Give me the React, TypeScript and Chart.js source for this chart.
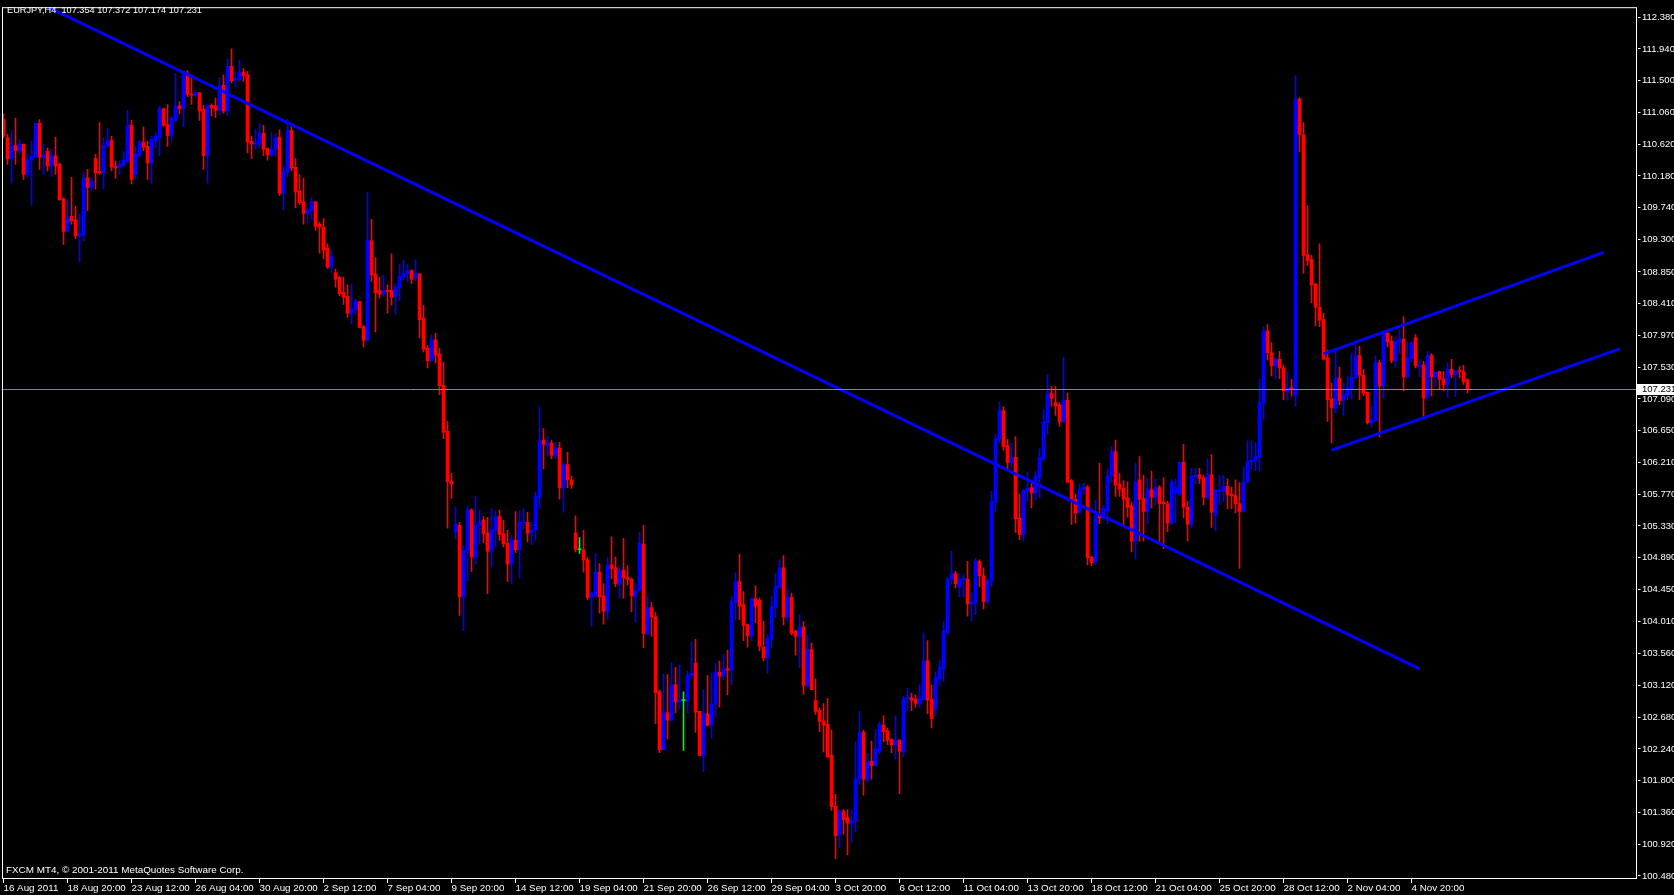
import React, { useEffect, useRef } from 'react';
import { Chart, registerables } from 'chart.js';

Chart.register(...registerables);

// ---- Header / footer texts ----
const symbolTitle = 'EURJPY,H4';
const lastBarQuote = ['107.354', '107.372', '107.174', '107.231'];
const copyrightText = 'FXCM MT4, © 2001-2011 MetaQuotes Software Corp.';

// ---- H4 candles (bar 0 = 16 Aug 2011) ----
const opens = [
  110.96,110.71,110.42,110.60,110.53,110.62,110.20,110.40,110.44,110.91,
  110.44,110.52,110.32,110.46,110.34,109.86,109.41,109.62,109.57,109.35,
  109.36,110.15,110.02,110.42,110.24,110.22,110.60,110.67,110.31,110.30,
  110.33,110.39,110.88,110.20,110.46,110.65,110.59,110.36,110.67,110.71,
  111.11,110.89,110.74,110.95,111.15,111.12,111.59,111.31,111.30,111.33,
  111.10,110.46,111.16,111.15,111.09,111.44,111.08,111.70,111.51,111.51,
  111.62,111.58,110.66,110.62,110.62,110.77,110.56,110.47,110.55,110.72,
  109.94,110.24,110.81,110.30,109.97,109.82,109.66,109.70,109.82,109.51,
  109.47,109.18,108.93,108.84,108.77,108.57,108.51,108.28,108.33,108.44,
  108.09,107.90,109.28,108.82,108.59,108.55,108.59,108.59,108.51,108.63,
  108.78,108.83,108.87,108.77,108.82,108.21,107.79,107.62,107.91,107.71,
  107.28,106.64,105.95,105.25,105.34,104.35,104.98,105.55,104.89,105.34,
  105.41,105.23,104.98,105.27,105.46,105.22,105.09,104.81,105.13,105.00,
  105.37,105.38,105.24,105.27,105.73,106.52,106.45,106.48,106.31,106.41,
  105.86,106.18,105.97,105.23,105.00,105.00,104.86,104.34,104.36,104.69,
  104.36,104.15,104.79,104.75,104.52,104.72,104.62,104.59,104.35,104.44,
  105.08,103.83,104.20,104.07,103.03,102.23,102.74,102.64,103.13,102.89,
  102.91,102.91,103.26,103.43,102.76,102.15,102.73,102.57,102.86,103.30,
  103.25,103.35,103.33,104.27,104.56,104.24,103.96,103.81,104.32,104.30,
  103.65,103.50,103.76,104.20,104.48,104.75,104.07,104.34,103.87,103.80,
  103.93,103.12,103.62,102.91,102.77,102.63,102.58,102.15,101.45,101.05,
  101.38,101.29,101.21,101.24,101.82,102.47,101.81,102.07,102.01,102.21,
  102.57,102.49,102.37,102.30,102.36,102.20,102.94,102.95,102.93,102.87,
  102.92,103.46,102.93,102.80,103.21,103.35,103.85,104.59,104.67,104.48,
  104.58,104.59,104.25,104.26,104.84,104.64,104.28,104.57,105.66,106.53,
  106.93,106.44,106.21,106.28,105.44,105.21,105.82,105.86,105.79,106.00,
  106.26,106.76,107.17,107.04,107.01,106.77,107.07,105.96,105.70,105.52,
  105.84,105.87,104.90,104.83,105.49,105.44,105.54,106.02,106.36,105.91,
  105.85,105.72,105.61,105.12,105.97,105.71,105.53,105.83,105.73,105.86,
  105.66,105.64,105.37,105.78,105.77,106.21,105.59,105.35,106.01,106.04,
  106.00,105.73,106.04,105.48,105.81,105.81,105.88,105.77,105.75,105.64,
  105.53,105.94,106.22,106.23,106.28,107.03,108.03,107.73,107.55,107.64,
  107.52,107.19,107.24,107.13,111.24,110.75,109.09,109.02,108.68,108.36,
  108.19,107.66,107.09,106.96,107.38,107.07,107.14,107.23,107.38,107.69,
  107.42,107.18,106.76,106.79,107.59,107.27,108.00,107.89,107.62,107.88,
  107.92,107.40,107.65,107.94,107.54,107.56,107.11,107.69,107.40,107.47,
  107.37,107.29,107.50,107.43,107.49,107.47,107.354,
];
const highs = [
  111.04,110.76,110.81,110.98,110.69,110.62,110.48,110.66,110.91,110.96,
  110.62,110.57,110.55,110.72,110.36,109.88,109.85,110.16,109.76,109.65,
  110.23,110.27,110.16,110.48,110.92,110.71,110.84,110.73,110.39,110.39,
  110.52,111.09,110.95,110.59,110.67,110.86,110.66,110.73,110.78,111.15,
  111.12,111.17,111.01,111.60,111.21,111.63,111.64,111.58,111.37,111.34,
  111.16,111.17,111.18,111.26,111.54,111.58,111.80,111.94,111.62,111.79,
  111.67,111.63,110.73,110.83,110.91,110.88,110.57,110.78,110.76,110.82,
  110.32,110.96,110.86,110.42,110.20,110.15,109.74,109.88,109.83,109.54,
  109.59,109.24,109.15,108.89,108.79,108.78,108.67,108.68,108.47,108.44,
  108.11,109.95,109.58,109.05,108.78,108.81,108.67,109.10,108.69,108.95,
  109.01,108.95,108.88,109.02,108.83,108.39,107.83,107.98,108.00,107.79,
  107.60,106.78,106.06,105.59,105.38,105.06,105.61,105.57,105.74,105.55,
  105.46,105.45,105.57,105.54,105.55,105.41,105.27,105.20,105.53,105.54,
  105.57,105.52,105.38,105.80,106.98,106.68,106.57,106.52,106.49,106.49,
  106.22,106.35,106.02,105.47,105.17,105.27,104.90,104.41,104.95,104.81,
  104.53,104.89,105.18,104.90,104.78,105.16,104.78,104.61,104.53,105.24,
  105.34,104.36,104.27,104.13,103.06,103.28,103.27,103.44,103.37,103.41,
  103.03,103.32,103.72,103.76,102.76,103.06,103.26,103.29,103.42,103.46,
  103.55,103.61,104.35,104.68,104.94,104.42,103.97,104.33,104.50,104.33,
  104.01,103.82,104.35,104.67,104.86,104.92,104.46,104.40,103.89,104.10,
  104.00,103.82,103.71,103.21,102.81,102.87,102.94,102.50,101.61,101.40,
  101.40,101.40,101.40,102.34,102.76,102.50,102.18,102.35,102.51,102.62,
  102.70,102.53,102.38,102.70,102.37,102.97,103.08,103.01,102.99,103.13,
  103.85,103.74,103.13,103.31,103.47,104.00,104.62,104.98,104.70,104.67,
  104.65,104.84,104.41,104.88,104.86,104.75,104.60,105.81,106.60,107.05,
  106.98,106.53,106.48,106.57,105.77,105.84,106.08,105.93,106.08,106.40,
  106.94,107.43,107.26,107.26,107.04,107.67,107.17,105.98,105.77,105.91,
  105.92,105.89,104.91,105.68,106.20,105.62,106.12,106.43,106.52,106.06,
  105.96,105.94,105.66,106.20,106.29,106.03,105.99,106.09,105.98,105.89,
  106.00,105.67,105.97,105.98,106.22,106.46,105.67,106.13,106.13,106.13,
  106.03,106.26,106.32,105.84,106.03,106.03,105.98,105.87,105.97,105.93,
  106.15,106.51,106.51,106.48,107.36,108.09,108.12,107.87,107.66,107.75,
  107.56,107.47,107.36,111.57,111.27,110.92,109.77,109.08,108.69,109.24,
  108.28,107.77,107.31,107.75,107.53,107.31,107.40,107.73,107.84,107.82,
  107.50,107.19,106.99,107.69,107.63,108.01,108.05,107.96,107.95,108.05,
  108.23,107.88,107.88,107.98,107.64,107.61,107.75,107.72,107.46,107.47,
  107.47,107.59,107.64,107.49,107.54,107.56,107.372,
];
const lows = [
  110.71,110.34,110.08,110.34,110.48,110.13,110.16,109.78,110.43,110.27,
  110.20,110.25,110.17,110.20,109.84,109.23,109.41,109.51,109.31,108.99,
  109.28,109.70,109.97,110.00,110.20,110.00,110.57,110.25,110.15,110.20,
  110.31,110.36,110.07,110.13,110.44,110.53,110.13,110.08,110.57,110.46,
  110.87,110.59,110.66,110.94,111.04,110.86,111.28,111.17,111.27,110.95,
  110.27,110.08,111.01,110.99,111.03,111.05,111.02,111.47,111.42,111.49,
  111.49,110.50,110.42,110.55,110.57,110.46,110.40,110.45,110.45,109.91,
  109.71,110.17,110.25,109.74,109.78,109.51,109.53,109.58,109.43,109.11,
  109.03,108.90,108.84,108.64,108.52,108.40,108.22,108.13,108.26,108.08,
  107.81,107.90,108.72,108.02,108.49,108.51,108.28,108.39,108.26,108.45,
  108.74,108.72,108.69,108.73,107.94,107.74,107.52,107.61,107.59,107.15,
  106.54,105.30,105.71,105.15,104.09,103.88,104.57,104.70,104.80,105.08,
  105.10,104.39,104.76,105.04,105.13,105.04,104.56,104.53,104.96,104.61,
  105.29,105.11,105.07,105.13,105.57,106.12,106.30,106.26,106.26,105.70,
  105.52,105.86,105.85,104.97,104.95,104.69,104.31,103.94,104.35,104.12,
  103.97,104.04,104.60,104.49,104.33,104.33,104.51,104.14,104.00,104.42,
  103.64,103.82,103.80,102.59,102.19,102.23,102.38,102.62,102.74,102.79,
  102.22,102.74,103.22,102.47,102.15,101.93,102.56,102.39,102.68,102.82,
  103.20,102.99,103.13,104.03,104.03,103.74,103.65,103.74,103.99,103.60,
  103.46,103.29,103.64,104.06,104.46,103.96,104.01,103.82,103.54,103.37,
  103.00,103.10,103.06,102.72,102.48,102.20,102.12,101.39,100.72,100.87,
  101.06,100.77,100.95,101.09,101.75,101.60,101.78,101.82,102.00,102.17,
  102.34,102.30,102.19,102.10,101.62,102.13,102.77,102.77,102.82,102.81,
  102.91,102.73,102.53,102.70,103.12,103.18,103.82,104.52,104.47,104.35,
  104.35,104.08,104.01,104.10,104.49,104.18,104.25,104.49,105.53,106.48,
  106.38,106.12,106.14,105.24,105.14,105.12,105.68,105.58,105.69,105.72,
  106.23,106.61,106.99,106.86,106.71,106.76,105.93,105.35,105.37,105.50,
  105.76,104.79,104.78,104.79,105.36,105.41,105.36,105.94,105.74,105.74,
  105.33,105.45,104.97,104.87,105.12,105.12,105.36,105.58,105.62,105.11,
  105.01,105.25,105.35,105.38,105.75,105.44,105.12,105.30,105.91,105.92,
  105.62,105.70,105.31,105.26,105.63,105.67,105.57,105.57,105.51,104.74,
  105.52,105.93,106.12,106.10,106.09,106.81,107.63,107.41,107.36,107.37,
  107.08,107.07,107.13,106.99,110.52,108.83,108.94,108.42,108.10,108.09,
  107.63,106.78,106.48,106.90,107.01,106.86,107.08,107.09,107.37,107.08,
  107.14,106.74,106.70,106.77,106.56,107.09,107.81,107.59,107.52,107.72,
  107.20,107.38,107.61,107.52,107.40,106.84,107.07,107.13,107.27,107.22,
  107.20,107.11,107.38,107.12,107.38,107.29,107.174,
];
const closes = [
  110.73,110.42,110.60,110.53,110.62,110.20,110.40,110.46,110.91,110.44,
  110.47,110.32,110.46,110.32,109.85,109.41,109.60,109.56,109.35,109.38,
  110.15,110.02,110.11,110.22,110.22,110.60,110.67,110.30,110.29,110.34,
  110.40,110.88,110.13,110.48,110.65,110.58,110.36,110.69,110.73,111.11,
  110.88,110.74,110.98,111.15,111.11,111.59,111.31,111.30,111.34,111.08,
  110.46,111.15,111.12,111.09,111.43,111.08,111.70,111.50,111.52,111.62,
  111.57,110.65,110.62,110.65,110.77,110.55,110.47,110.55,110.70,109.94,
  110.24,110.81,110.29,109.96,109.81,109.66,109.70,109.82,109.48,109.47,
  109.15,108.92,109.06,108.75,108.55,108.50,108.28,108.33,108.45,108.08,
  107.90,109.29,108.81,108.56,108.54,108.59,108.58,108.50,108.64,108.79,
  108.83,108.87,108.75,108.83,108.19,107.78,107.62,107.91,107.70,107.27,
  106.63,105.94,105.91,105.35,104.35,104.99,105.55,104.90,105.34,105.39,
  105.22,104.98,105.28,105.46,105.21,105.08,104.80,105.14,105.00,105.38,
  105.38,105.23,105.27,105.74,106.51,106.46,106.48,106.31,106.41,105.86,
  106.18,105.97,105.90,105.00,105.00,104.86,104.34,104.40,104.69,104.35,
  104.15,104.79,104.74,104.53,104.72,104.61,104.59,104.36,104.43,105.09,
  103.84,104.20,104.07,103.02,102.23,102.74,102.64,103.13,102.89,102.92,
  102.91,103.26,103.29,102.75,102.15,102.73,102.57,102.86,103.30,103.25,
  103.35,103.33,104.28,104.56,104.22,103.95,103.81,104.32,104.22,103.66,
  103.50,103.77,104.21,104.49,104.75,104.07,104.34,103.84,103.80,103.93,
  103.12,103.62,103.06,102.76,102.62,102.57,102.13,101.44,101.04,101.38,
  101.26,101.21,101.24,101.83,102.47,101.82,102.07,102.01,102.24,102.58,
  102.48,102.36,102.30,102.36,102.21,102.94,102.96,102.92,102.87,102.94,
  103.46,102.92,102.66,103.23,103.37,103.87,104.59,104.67,104.53,104.59,
  104.60,104.25,104.28,104.84,104.64,104.28,104.57,105.67,106.54,106.93,
  106.43,106.21,106.28,105.43,105.21,105.82,105.85,105.79,106.02,106.28,
  106.77,107.17,107.10,106.99,106.77,107.07,105.94,105.68,105.51,105.84,
  105.87,104.89,104.82,105.48,105.44,105.57,106.02,106.36,105.90,105.84,
  105.70,105.59,105.12,105.94,105.70,105.53,105.84,105.73,105.86,105.64,
  105.64,105.37,105.94,105.86,106.21,105.59,105.35,106.02,106.03,105.99,
  105.73,106.04,105.52,105.83,105.82,105.88,105.76,105.75,105.64,105.53,
  105.94,106.23,106.24,106.29,107.04,108.03,107.73,107.55,107.64,107.52,
  107.20,107.24,107.23,111.24,110.75,109.08,109.01,108.67,108.36,108.18,
  107.64,107.08,106.97,107.38,107.07,107.15,107.24,107.39,107.69,107.42,
  107.17,106.76,106.80,107.59,107.27,108.00,107.88,107.62,107.89,107.92,
  107.40,107.66,107.87,107.55,107.56,107.10,107.69,107.40,107.46,107.36,
  107.29,107.50,107.43,107.48,107.47,107.33,107.231,
];

// ---- Time axis labels (one every 16 bars) ----
const timeLabels = [
  '16 Aug 2011', '18 Aug 20:00', '23 Aug 12:00', '26 Aug 04:00', '30 Aug 20:00',
  '2 Sep 12:00', '7 Sep 04:00', '9 Sep 20:00', '14 Sep 12:00', '19 Sep 04:00',
  '21 Sep 20:00', '26 Sep 12:00', '29 Sep 04:00', '3 Oct 20:00', '6 Oct 12:00',
  '11 Oct 04:00', '13 Oct 20:00', '18 Oct 12:00', '21 Oct 04:00', '25 Oct 20:00',
  '28 Oct 12:00', '2 Nov 04:00', '4 Nov 20:00',
];
const barsPerTimeLabel = 16;
const slotCount = 409; // bars + empty right-hand shift area

// ---- Price axis ----
const priceTicks = [
  112.38, 111.94, 111.5, 111.06, 110.62, 110.18, 109.74, 109.3, 108.85, 108.41,
  107.97, 107.53, 107.09, 106.65, 106.21, 105.77, 105.33, 104.89, 104.45, 104.01,
  103.56, 103.12, 102.68, 102.24, 101.8, 101.36, 100.92, 100.48,
];
const priceMin = 100.438;
const priceMax = 112.518;
const currentPrice = 107.231;

// ---- Trend lines (bar index, price) ----
const downTrendBars = [0, 354];
const downTrendPrices = [112.816, 103.35];
const upperChannelBars = [330, 400];
const upperChannelPrices = [107.715, 109.121];
const lowerChannelBars = [332, 404];
const lowerChannelPrices = [106.38, 107.784];

const BULL = '#0000FF';
const BEAR = '#FF0000';
const DOJI = '#00FF00';
const FONT = 'Liberation Sans, Arial, sans-serif';

export default function App() {
  const canvasRef = useRef<HTMLCanvasElement | null>(null);

  useEffect(() => {
    const canvas = canvasRef.current;
    if (!canvas) return;
    const labels = Array.from({ length: slotCount }, (_, i) => String(i));
    const colors = closes.map((c, i) => (c > opens[i] ? BULL : c < opens[i] ? BEAR : DOJI));
    const trend = (bars: number[], prices: number[]) =>
      bars.map((b, i) => ({ x: String(b), y: prices[i] }));

    const overlay = {
      id: 'mt4Overlay',
      afterDatasetsDraw(chart: any) {
        const { ctx, chartArea: a, scales } = chart;
        const y = Math.round(scales.y.getPixelForValue(currentPrice)) + 0.5;
        ctx.save();
        ctx.strokeStyle = '#778899';
        ctx.lineWidth = 1;
        ctx.beginPath();
        ctx.moveTo(a.left, y);
        ctx.lineTo(a.right, y);
        ctx.stroke();
        ctx.restore();
      },
      afterDraw(chart: any) {
        const { ctx, chartArea: a, scales } = chart;
        ctx.save();
        ctx.strokeStyle = '#FFFFFF';
        ctx.lineWidth = 1;
        ctx.strokeRect(a.left + 1, a.top + 0.5, a.right - a.left - 2, a.bottom - a.top - 1);
        const y = Math.round(scales.y.getPixelForValue(currentPrice));
        ctx.fillStyle = '#FFFFFF';
        ctx.fillRect(a.right - 1, y - 5, chart.width - a.right + 1, 11);
        ctx.fillStyle = '#000000';
        ctx.font = `9.5px ${FONT}`;
        ctx.textBaseline = 'middle';
        ctx.textAlign = 'left';
        ctx.fillText(currentPrice.toFixed(3), a.right + 4.5, y + 0.5);
        ctx.restore();
      },
    };

    const chart = new Chart(canvas, {
      type: 'bar',
      data: {
        labels,
        datasets: [
          {
            type: 'line',
            label: 'down trend',
            data: trend(downTrendBars, downTrendPrices),
            borderColor: BULL,
            borderWidth: 3,
            pointRadius: 0,
            clip: 0,
            order: 0,
          } as any,
          {
            type: 'line',
            label: 'upper channel',
            data: trend(upperChannelBars, upperChannelPrices),
            borderColor: BULL,
            borderWidth: 3,
            pointRadius: 0,
            clip: 0,
            order: 0,
          } as any,
          {
            type: 'line',
            label: 'lower channel',
            data: trend(lowerChannelBars, lowerChannelPrices),
            borderColor: BULL,
            borderWidth: 3,
            pointRadius: 0,
            clip: 0,
            order: 0,
          } as any,
          {
            type: 'bar',
            label: 'bodies',
            data: opens.map((o, i) => [o, closes[i]]),
            backgroundColor: colors,
            borderWidth: 0,
            barThickness: 3,
            minBarLength: 1,
            grouped: false,
            order: 1,
          } as any,
          {
            type: 'bar',
            label: 'wicks',
            data: lows.map((l, i) => [l, highs[i]]),
            backgroundColor: colors,
            borderWidth: 0,
            barThickness: 1,
            grouped: false,
            order: 2,
          } as any,
        ],
      },
      options: {
        responsive: false,
        animation: false,
        devicePixelRatio: 1,
        events: [],
        layout: { padding: { left: 1.5, top: 2, right: 0, bottom: 0 } },
        plugins: { legend: { display: false }, tooltip: { enabled: false }, title: { display: false } },
        scales: {
          x: {
            type: 'category',
            offset: true,
            afterFit: (s: any) => { s.height = 16; },
            afterBuildTicks: (s: any) => {
              s.ticks = s.ticks.filter(
                (t: any) => t.value % barsPerTimeLabel === 0 && t.value / barsPerTimeLabel < timeLabels.length,
              );
            },
            grid: { display: true, drawOnChartArea: false, drawTicks: true, tickLength: 4, color: '#FFFFFF', offset: false },
            border: { display: false },
            ticks: {
              autoSkip: false,
              maxRotation: 0,
              minRotation: 0,
              align: 'start',
              labelOffset: 0,
              padding: -1,
              color: '#FFFFFF',
              font: { family: FONT, size: 9.8 },
              callback: (v: any) => timeLabels[Number(v) / barsPerTimeLabel] ?? '',
            },
          },
          y: {
            type: 'linear',
            position: 'right',
            min: priceMin,
            max: priceMax,
            beginAtZero: false,
            afterFit: (s: any) => { s.width = 36.5; },
            afterBuildTicks: (s: any) => { s.ticks = priceTicks.map((v) => ({ value: v })); },
            grid: { display: true, drawOnChartArea: false, drawTicks: true, tickLength: 3, color: '#FFFFFF' },
            border: { display: false },
            ticks: {
              autoSkip: false,
              padding: 1.5,
              color: '#FFFFFF',
              font: { family: FONT, size: 9.5 },
              callback: (v: any) => Number(v).toFixed(3),
            },
          },
        },
      } as any,
      plugins: [overlay],
    });
    return () => chart.destroy();
  }, []);

  const textStyle: React.CSSProperties = {
    position: 'absolute',
    color: '#FFFFFF',
    fontFamily: FONT,
    lineHeight: '11px',
    whiteSpace: 'pre',
    pointerEvents: 'none',
  };

  return (
    <div style={{ position: 'fixed', left: 0, top: 0, width: 1674, height: 895, background: '#000000', overflow: 'hidden' }}>
      <canvas ref={canvasRef} width={1674} height={895} style={{ display: 'block', width: 1674, height: 895 }} />
      <div style={{ ...textStyle, left: 7, top: 5, fontSize: '9.2px' }}>{`${symbolTitle}  ${lastBarQuote.join(' ')}`}</div>
      <div style={{ ...textStyle, left: 6, top: 864, fontSize: '9.9px' }}>{copyrightText}</div>
    </div>
  );
}
